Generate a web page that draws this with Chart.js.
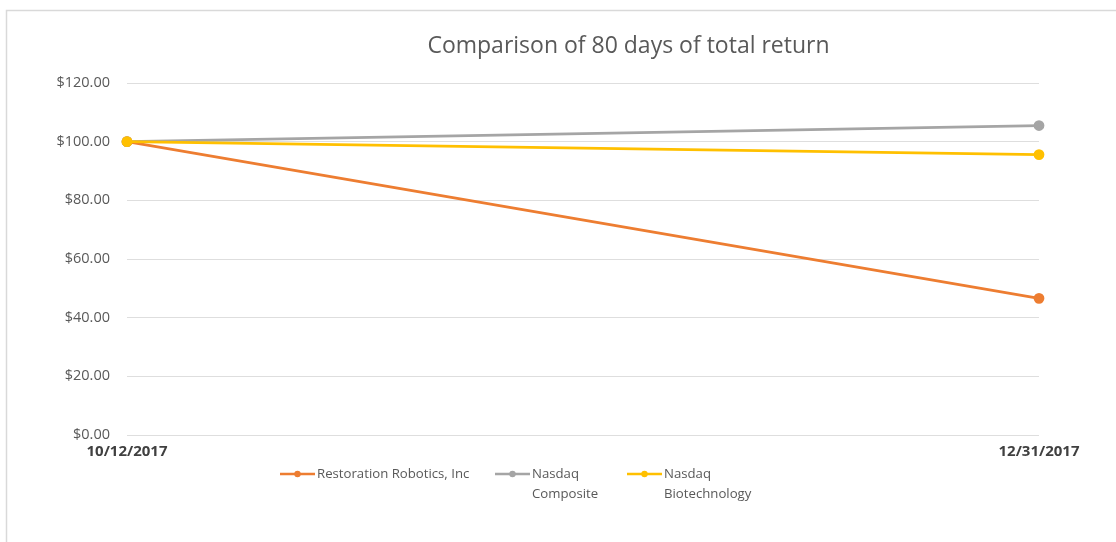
<!DOCTYPE html>
<html>
<head>
<meta charset="utf-8">
<script src="https://cdn.jsdelivr.net/npm/chart.js@4.4.1/dist/chart.umd.min.js"></script>
<style>
  html, body { margin: 0; padding: 0; background: #fff; }
  #wrap { position: relative; width: 1116px; height: 542px; }
</style>
</head>
<body>
<div id="wrap"><canvas id="c" width="1116" height="542"></canvas></div>
<script>
const chartTitle = 'Comparison of 80 days of total return';
const categories = ['10/12/2017', '12/31/2017'];
const seriesNames = ['Restoration Robotics, Inc', 'Nasdaq\nComposite', 'Nasdaq\nBiotechnology'];
const restorationValues = [100, 46.6];
const compositeValues = [100, 105.5];
const biotechValues = [100, 95.6];
const yTicks = [0, 20, 40, 60, 80, 100, 120];
const seriesColors = ['#ed7d31', '#a5a5a5', '#ffc000'];

const FONT = "'Open Sans', 'Liberation Sans', sans-serif";

const framePlugin = {
  id: 'frame',
  beforeDraw(chart) {
    const ctx = chart.ctx;
    ctx.save();
    ctx.fillStyle = '#ffffff';
    ctx.fillRect(0, 0, chart.width, chart.height);
    ctx.strokeStyle = '#d9d9d9';
    ctx.lineWidth = 1.5;
    ctx.beginPath();
    ctx.moveTo(6.5, chart.height);
    ctx.lineTo(6.5, 10.5);
    ctx.lineTo(chart.width, 10.5);
    ctx.stroke();
    // title
    ctx.fillStyle = '#595959';
    ctx.font = "23px " + FONT;
    ctx.textAlign = 'center';
    ctx.textBaseline = 'middle';
    ctx.fillText(chartTitle, 628.5, 46);
    ctx.restore();
  }
};

const legendPlugin = {
  id: 'customLegend',
  afterDraw(chart) {
    const ctx = chart.ctx;
    const xs = [280, 495, 627];
    const y = 474;
    ctx.save();
    chart.data.datasets.forEach((ds, i) => {
      const x0 = xs[i];
      ctx.strokeStyle = ds.borderColor;
      ctx.lineWidth = 2.5;
      ctx.beginPath();
      ctx.moveTo(x0, y);
      ctx.lineTo(x0 + 35, y);
      ctx.stroke();
      ctx.fillStyle = ds.borderColor;
      ctx.beginPath();
      ctx.arc(x0 + 17.5, y, 3.2, 0, Math.PI * 2);
      ctx.fill();
      ctx.fillStyle = '#595959';
      ctx.font = "13.2px " + FONT;
      ctx.textAlign = 'left';
      ctx.textBaseline = 'middle';
      ds.label.split('\n').forEach((line, k) => {
        ctx.fillText(line, x0 + 37, y + k * 20);
      });
    });
    ctx.restore();
  }
};

const mk = (label, data, color, order) => ({
  label, data,
  borderColor: color,
  backgroundColor: color,
  borderWidth: 2.8,
  pointRadius: 4,
  pointHoverRadius: 4,
  pointBackgroundColor: color,
  pointBorderColor: color,
  tension: 0,
  order
});

new Chart(document.getElementById('c'), {
  type: 'line',
  data: {
    labels: categories,
    datasets: [
      mk(seriesNames[0], restorationValues, seriesColors[0], 3),
      mk(seriesNames[1], compositeValues, seriesColors[1], 2),
      mk(seriesNames[2], biotechValues, seriesColors[2], 1)
    ]
  },
  options: {
    responsive: false,
    animation: false,
    devicePixelRatio: 1,
    layout: { padding: { top: 83, right: 77, left: 0, bottom: 0 } },
    plugins: {
      legend: { display: false },
      title: { display: false },
      tooltip: { enabled: false }
    },
    scales: {
      x: {
        type: 'category',
        offset: false,
        grid: { display: false, drawTicks: false },
        border: { display: false },
        ticks: {
          color: '#404040',
          font: { family: FONT, size: 15, weight: 'bold' },
          padding: 8,
          maxRotation: 0,
          autoSkip: false
        },
        afterFit(scale) { scale.height = 107; }
      },
      y: {
        min: 0,
        max: 120,
        afterBuildTicks(scale) { scale.ticks = yTicks.map(v => ({ value: v })); },
        grid: { color: '#dedede', lineWidth: 1, drawTicks: false },
        border: { display: false },
        ticks: {
          color: '#595959',
          font: { family: FONT, size: 14.5 },
          padding: 17,
          callback: v => '$' + Number(v).toFixed(2)
        },
        afterFit(scale) { scale.width = 127; }
      }
    }
  },
  plugins: [framePlugin, legendPlugin]
});
</script>
</body>
</html>
